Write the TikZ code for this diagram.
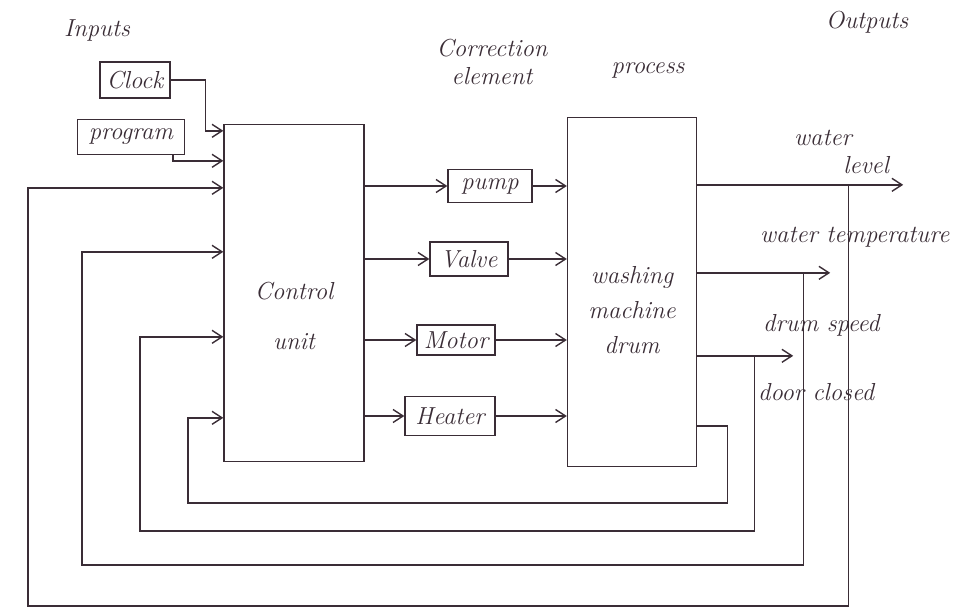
\documentclass[tikz,border=0pt]{standalone}
\usetikzlibrary{calc,arrows.meta}
\definecolor{ink}{HTML}{3A2D36}

\begin{document}
\begin{tikzpicture}[x=0.02cm,y=-0.02cm,font=\fontsize{14}{16}\selectfont\itshape,
  box/.style={draw=ink,line width=0.8pt,inner sep=0pt,text=ink},
  flow/.style={draw=ink,line width=0.8pt,-{Straight Barb[length=2mm,width=2.6mm]}},
  lbl/.style={text=ink}]
  \useasboundingbox (0,0) rectangle (955,614);
  % headings
  \node[lbl] (hin) at (97,30) {Inputs};
  \node[lbl,align=center] (hcor) at (492,62) {Correction\\element};
  \node[lbl] (hproc) at (648,70) {process};
  \node[lbl] (hout) at (867,22) {Outputs};
  % inputs
  \node[box,minimum width=1.4cm,minimum height=0.72cm] (clock) at (135,80) {Clock};
  \node[box,minimum width=2.14cm,minimum height=0.7cm] (prog) at (131,137) {program};
  % controller and process
  \node[box,minimum width=2.8cm,minimum height=6.74cm] (ctrl) at (294,293) {};
  \node[lbl,align=center] (ctrltxt) at ($(ctrl)+(0,23)$) {Control\\[12pt]unit};
  \node[box,minimum width=2.58cm,minimum height=6.98cm] (proc) at (632,292) {};
  \node[lbl,align=center] (proctxt) at ($(proc)+(0,18)$) {washing\\[4pt]machine\\[4pt]drum};
  % correction elements
  \node[box,minimum width=1.68cm,minimum height=0.66cm] (pump) at (490,186) {pump};
  \node[box,minimum width=1.56cm,minimum height=0.68cm] (valve) at (469,259) {Valve};
  \node[box,minimum width=1.56cm,minimum height=0.6cm] (motor) at (456,340) {Motor};
  \node[box,minimum width=1.8cm,minimum height=0.78cm] (heater) at (450,416) {Heater};
  % output labels
  \node[lbl,align=left,anchor=west] (tlvl) at (788,152) {water\\\hspace*{2em}level};
  \node[lbl,anchor=west] (ttemp) at (754,237) {water temperature};
  \node[lbl,anchor=west] (tspd) at (757,325) {drum speed};
  \node[lbl,anchor=west] (tdoor) at (752,392) {door closed};

  % entry points on the control unit
  \coordinate (inclk) at ($(ctrl.north west)+(0,7)$);
  \coordinate (inprg) at ($(ctrl.north west)+(0,37)$);
  \coordinate (fbA) at ($(ctrl.north west)+(0,64)$);
  \coordinate (fbB) at ($(ctrl.north west)+(0,128)$);
  \coordinate (fbC) at ($(ctrl.north west)+(0,213)$);
  \coordinate (fbD) at ($(ctrl.north west)+(0,294)$);
  % exit points on the drum
  \coordinate (outA) at ($(proc.north east)+(0,68)$);
  \coordinate (outB) at ($(proc.north east)+(0,156)$);
  \coordinate (outC) at ($(proc.north east)+(0,239)$);
  \coordinate (outD) at ($(proc.north east)+(0,309)$);
  \coordinate (endA) at ($(outA)+(206,0)$);
  \coordinate (endB) at ($(outB)+(133,0)$);
  \coordinate (endC) at ($(outC)+(96,0)$);
  \coordinate (tapA) at ($(outA)+(151,0)$);
  \coordinate (tapB) at ($(outB)+(106,0)$);
  \coordinate (tapC) at ($(outC)+(57,0)$);
  \coordinate (botA) at (28,606);
  \coordinate (botB) at (82,565);
  \coordinate (botC) at (140,531);
  \coordinate (botD) at (188,503);

  % inputs into control unit
  \draw[flow] (clock.east) -- ++(35,0) |- (inclk);
  \draw[flow] ($(prog.south east)+(-12,0)$) |- (inprg);
  % control unit -> elements -> drum
  \foreach \el in {pump,valve,motor,heater}{
    \draw[flow] (ctrl.east |- \el) -- (\el.west);
    \draw[flow] (\el.east) -- (proc.west |- \el);
  }
  % measured outputs
  \draw[flow] (outA) -- (endA);
  \draw[flow] (outB) -- (endB);
  \draw[flow] (outC) -- (endC);
  % feedback loops back to the control unit
  \draw[flow] (tapA) |- (botA) |- (fbA);
  \draw[flow] (tapB) |- (botB) |- (fbB);
  \draw[flow] (tapC) |- (botC) |- (fbC);
  \draw[flow] (outD) -- ++(30,0) |- (botD) |- (fbD);
\end{tikzpicture}
\end{document}
